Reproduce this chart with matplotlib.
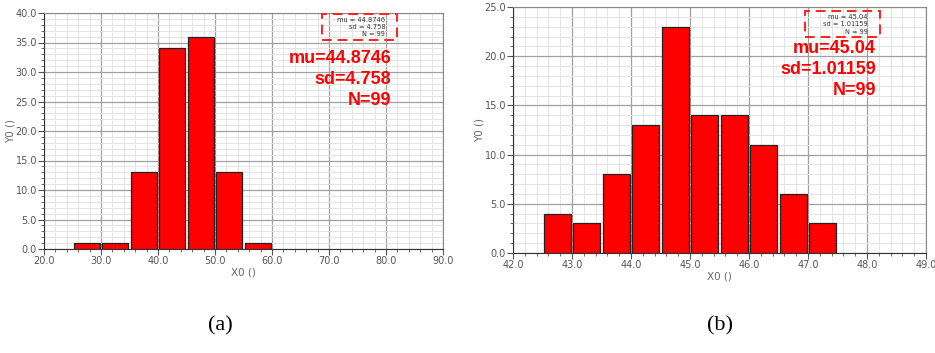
import matplotlib
matplotlib.use("Agg")
import matplotlib.pyplot as plt
from matplotlib.patches import Rectangle
from matplotlib.ticker import MultipleLocator, FormatStrFormatter

# histogram (a)
edges_a = [25, 30, 35, 40, 45, 50, 55, 60]
counts_a = [1, 1, 13, 34, 36, 13, 1]
stats_a = ["mu=44.8746", "sd=4.758", "N=99"]
small_a = ["mu = 44.8746", "sd = 4.758", "N = 99"]

# histogram (b)
edges_b = [42.5, 43.0, 43.5, 44.0, 44.5, 45.0, 45.5, 46.0, 46.5, 47.0, 47.5]
counts_b = [4, 3, 8, 13, 23, 14, 14, 11, 6, 3]
stats_b = ["mu=45.04", "sd=1.01159", "N=99"]
small_b = ["mu = 45.04", "sd = 1.01159", "N = 99"]

fig = plt.figure(figsize=(9.35, 3.53), dpi=100)
W, H = 935, 353


def px_axes(x0, y0, x1, y1):
    return fig.add_axes([x0 / W, (H - y1) / H, (x1 - x0) / W, (y1 - y0) / H])


def draw_hist(ax, edges, counts, xlim, ylim, xmaj, xmin, stats, small, tx, ty, box):
    ax.set_xlim(*xlim)
    ax.set_ylim(*ylim)
    ax.xaxis.set_major_locator(MultipleLocator(xmaj))
    ax.xaxis.set_minor_locator(MultipleLocator(xmin))
    ax.yaxis.set_major_locator(MultipleLocator(5))
    ax.yaxis.set_minor_locator(MultipleLocator(1))
    ax.xaxis.set_major_formatter(FormatStrFormatter("%.1f"))
    ax.yaxis.set_major_formatter(FormatStrFormatter("%.1f"))
    ax.grid(which="minor", color="#e4e4e4", lw=0.7)
    ax.grid(which="major", color="#a0a0a0", lw=0.9)
    ax.set_axisbelow(True)
    widths = [edges[i + 1] - edges[i] for i in range(len(counts))]
    gap = (xlim[1] - xlim[0]) * 0.0035
    ax.bar([e + gap for e in edges[:-1]], counts, width=[w - 2 * gap for w in widths],
           align="edge", color="#ff0000", edgecolor="#222222", lw=0.9, zorder=3)
    ax.tick_params(which="both", direction="out", colors="#555555", labelsize=7, pad=1)
    ax.tick_params(which="major", length=4)
    ax.tick_params(which="minor", length=2)
    for s in ["top", "right"]:
        ax.spines[s].set_color("#888888")
    for s in ["left", "bottom"]:
        ax.spines[s].set_color("#333333")
    ax.set_xlabel("X0 ()", fontsize=7.5, color="#666666", labelpad=1)
    ax.set_ylabel("Y0 ()", fontsize=7.5, color="#666666", labelpad=0)

    # summary numbers, large and in a small dashed legend box
    for i, s in enumerate(stats):
        ax.text(tx, ty[i], s, transform=ax.transAxes, ha="right", va="center",
                fontsize=13, fontweight="bold", color="#ff0000",
                family="Liberation Sans", zorder=5)
    bx0, by0, bx1, by1 = box
    ax.add_patch(Rectangle((bx0, by0), bx1 - bx0, by1 - by0, transform=ax.transAxes,
                           fill=False, ec="#ff2020", lw=1.4, ls=(0, (5, 3)), zorder=5))
    for i, s in enumerate(small):
        ax.text(bx1 - 0.03, by1 - 0.012 - i * 0.03, s, transform=ax.transAxes,
                ha="right", va="top", fontsize=4.8, color="#333333",
                family="Liberation Sans Narrow", zorder=6)


ax_a = px_axes(44, 13, 443, 249)
draw_hist(ax_a, edges_a, counts_a, (20, 90), (0, 40), 10, 2, stats_a, small_a,
          0.870, [0.809, 0.720, 0.631], (0.697, 0.886, 0.885, 0.996))

ax_b = px_axes(513, 7, 926, 253)
draw_hist(ax_b, edges_b, counts_b, (42, 49), (0, 25), 1, 0.2, stats_b, small_b,
          0.879, [0.833, 0.744, 0.659], (0.707, 0.878, 0.889, 0.984))

fig.text(220 / W, 1 - 326 / H, "(a)", ha="center", va="center", fontsize=16,
         family="Liberation Serif")
fig.text(720 / W, 1 - 326 / H, "(b)", ha="center", va="center", fontsize=16,
         family="Liberation Serif")

fig.savefig("out.png", dpi=100)
